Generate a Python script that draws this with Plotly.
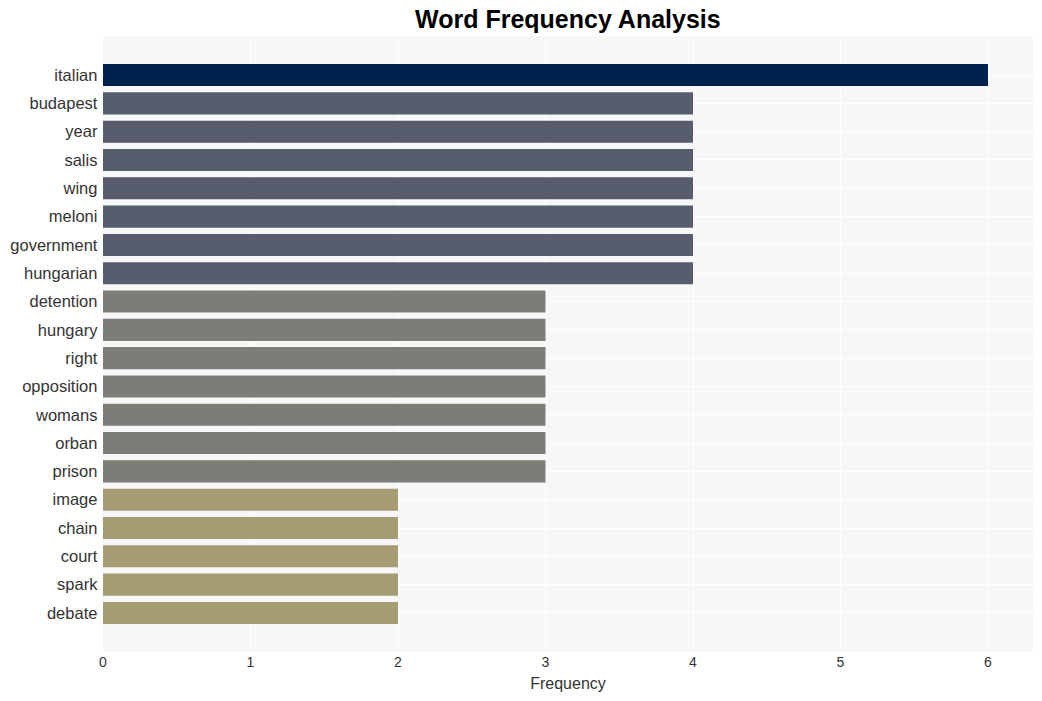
import plotly.graph_objects as go

words = ["italian", "budapest", "year", "salis", "wing", "meloni", "government",
         "hungarian", "detention", "hungary", "right", "opposition", "womans",
         "orban", "prison", "image", "chain", "court", "spark", "debate"]
freqs = [6, 4, 4, 4, 4, 4, 4, 4, 3, 3, 3, 3, 3, 3, 3, 2, 2, 2, 2, 2]

fig = go.Figure(go.Bar(
    x=freqs,
    y=words,
    orientation="h",
    marker=dict(color=freqs, colorscale="cividis_r", cmin=0, cmax=6, line=dict(width=0)),
))

fig.update_layout(
    width=1042,
    height=701,
    margin=dict(l=103, r=9, t=36, b=49),
    title=dict(text="<b>Word Frequency Analysis</b>", x=0.545, xanchor="center", y=0.972, yanchor="middle",
               font=dict(family="Liberation Sans, Arial", size=25, color="black")),
    plot_bgcolor="#f7f7f7",
    paper_bgcolor="white",
    font=dict(family="Liberation Sans, Arial", size=16, color="#333"),
    bargap=0.22,
    showlegend=False,
)
fig.update_xaxes(title=dict(text="Frequency", standoff=8, font=dict(size=16)), range=[0, 6.305], dtick=1,
                 showgrid=True, gridcolor="white", gridwidth=1, zeroline=False,
                 ticks="", tickfont=dict(size=14))
fig.update_yaxes(autorange=False, range=[len(words) - 1 + 1.38, -1.38],
                 showgrid=True, gridcolor="white", ticks="", ticksuffix=" ",
                 tickfont=dict(size=16.5))

fig.write_html("out.html")
